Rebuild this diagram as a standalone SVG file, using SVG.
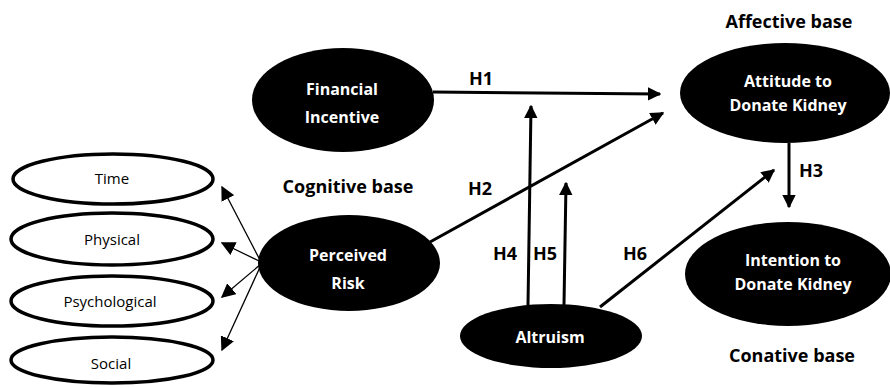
<svg xmlns="http://www.w3.org/2000/svg" width="890" height="388" viewBox="0 0 890 388">
<defs>
<style>
.dark{fill:#000;}
.light{fill:#fff;stroke:#000;stroke-width:3.5;}
.wt{fill:#fff;font-family:"Open Sans","Liberation Sans",sans-serif;font-weight:bold;font-size:16px;text-anchor:middle;}
.bt{fill:#000;font-family:"Open Sans","Liberation Sans",sans-serif;font-size:15px;text-anchor:middle;}
.lb{fill:#000;font-family:"Open Sans","Liberation Sans",sans-serif;font-weight:bold;font-size:18px;}
.main{stroke:#000;stroke-width:3;fill:none;}
.thin{stroke:#000;stroke-width:1.3;fill:none;}
</style>
<marker id="ah" viewBox="0 0 10 10" refX="9" refY="5" markerWidth="4.5" markerHeight="4.5" markerUnits="strokeWidth" orient="auto">
<path d="M0,0 L10,5 L0,10 z" fill="#000"/>
</marker>
<marker id="ahs" viewBox="0 0 10 10" refX="9" refY="5" markerWidth="11" markerHeight="11" markerUnits="strokeWidth" orient="auto">
<path d="M0,0 L10,5 L0,10 z" fill="#000"/>
</marker>
</defs>
<rect width="890" height="388" fill="#fff"/>

<g id="connectors">
<line class="main" x1="433" y1="92" x2="660" y2="94" marker-end="url(#ah)"/>
<line class="main" x1="430" y1="242" x2="663" y2="113" marker-end="url(#ah)"/>
<line class="main" x1="789" y1="143" x2="789" y2="207" marker-end="url(#ah)"/>
<line class="main" x1="528" y1="305" x2="531" y2="106" marker-end="url(#ah)"/>
<line class="main" x1="564" y1="305" x2="566" y2="183" marker-end="url(#ah)"/>
<line class="main" x1="600" y1="307" x2="774" y2="170" marker-end="url(#ah)"/>
<line class="thin" x1="261" y1="262" x2="222" y2="187" marker-end="url(#ahs)"/>
<line class="thin" x1="261" y1="262" x2="222" y2="243" marker-end="url(#ahs)"/>
<line class="thin" x1="261" y1="264" x2="222" y2="297" marker-end="url(#ahs)"/>
<line class="thin" x1="261" y1="265" x2="222" y2="350" marker-end="url(#ahs)"/>
</g>

<g id="labels">
<text class="lb" x="469" y="85">H1</text>
<text class="lb" x="468" y="195">H2</text>
<text class="lb" x="799" y="177">H3</text>
<text class="lb" x="493" y="260">H4</text>
<text class="lb" x="533" y="260">H5</text>
<text class="lb" x="623" y="260">H6</text>
<text class="lb" x="789" y="28" text-anchor="middle">Affective base</text>
<text class="lb" x="348" y="193" text-anchor="middle">Cognitive base</text>
<text class="lb" x="792" y="362" text-anchor="middle">Conative base</text>
</g>

<g id="financial">
<ellipse class="dark" cx="343" cy="100" rx="91" ry="52"/>
<text class="wt" x="342" y="95">Financial</text>
<text class="wt" x="342" y="123">Incentive</text>
</g>
<g id="attitude">
<ellipse class="dark" cx="785" cy="93" rx="105" ry="50"/>
<text class="wt" x="788" y="87">Attitude to</text>
<text class="wt" x="788" y="111">Donate Kidney</text>
</g>
<g id="intention">
<ellipse class="dark" cx="788" cy="274" rx="103" ry="52"/>
<text class="wt" x="793" y="266">Intention to</text>
<text class="wt" x="793" y="290">Donate Kidney</text>
</g>
<g id="perceived">
<ellipse class="dark" cx="349" cy="263" rx="91" ry="48"/>
<text class="wt" x="348" y="261">Perceived</text>
<text class="wt" x="348" y="289">Risk</text>
</g>
<g id="altruism">
<ellipse class="dark" cx="551" cy="336" rx="91" ry="32"/>
<text class="wt" x="550" y="343">Altruism</text>
</g>
<g id="time">
<ellipse class="light" cx="113" cy="179" rx="100" ry="25"/>
<text class="bt" x="112" y="184">Time</text>
</g>
<g id="physical">
<ellipse class="light" cx="112" cy="239" rx="101" ry="26"/>
<text class="bt" x="112" y="245">Physical</text>
</g>
<g id="psychological">
<ellipse class="light" cx="112" cy="301" rx="101" ry="25"/>
<text class="bt" x="110" y="307">Psychological</text>
</g>
<g id="social">
<ellipse class="light" cx="112" cy="360" rx="101" ry="23"/>
<text class="bt" x="111" y="369">Social</text>
</g>
</svg>
